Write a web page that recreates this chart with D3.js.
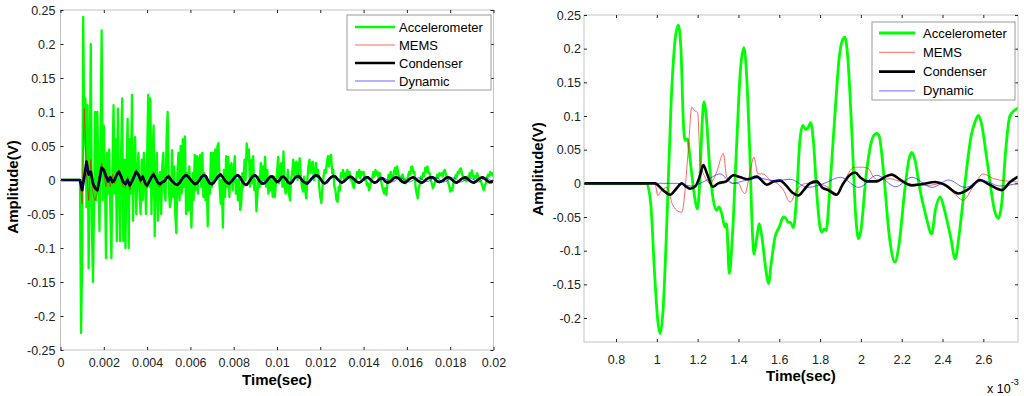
<!DOCTYPE html>
<html>
<head>
<meta charset="utf-8">
<title>Amplitude vs time</title>
<script src="https://d3js.org/d3.v7.min.js"></script>
<style>
body { margin: 0; background: #fff; }
svg { font-family: "Liberation Sans", Arial, sans-serif; }
</style>
</head>
<body>
<script>

// series names and colours (same for both panels)
var names = ["Accelerometer", "MEMS", "Condenser", "Dynamic"];
var colors = ["#00ff00", "#ff0000", "#000000", "#0000ff"];

// ---- left panel: whole record, 0 .. 0.02 s ----
var leftXTicks = [0, 0.002, 0.004, 0.006, 0.008, 0.01, 0.012, 0.014, 0.016, 0.018, 0.02];
var leftYTicks = [-0.25, -0.2, -0.15, -0.1, -0.05, 0, 0.05, 0.1, 0.15, 0.2, 0.25];

// accelerometer sampled every 0.00005 s
var accelStep = 0.00005;
var leftAccel = [
  0, 0, 0, 0, 0, 0, 0, 0, 0, 0, 0, 0, 0, 0, 0, 0, 0, 0, 0,
  -0.225, -0.12, 0.24, 0.05, 0.12, -0.04, 0.11, -0.13, 0.02, 0.2,
  -0.07, -0.15, -0.04, 0.1, -0.03, 0.1, 0.02, -0.075, 0.05, 0.22,
  -0.03, 0.08, 0.01, -0.115, 0.04, -0.02, 0.045, -0.04, -0.115, 0.02,
  0.11, -0.02, 0.06, -0.09, 0.105, -0.01, -0.09, 0.04, 0.12, -0.09,
  0.03, -0.1, 0.02, 0.09, -0.1, 0.06, -0.02, 0.125, -0.06, 0.03,
  0.063, -0.05, 0.01, 0.04, -0.02, -0.05, 0.03, -0.03, 0.04, 0.0,
  -0.05, 0.03, 0.125, -0.01, 0.12, -0.05, 0.03, 0.08, -0.083, 0.01,
  0.04, -0.06, 0.0, 0.012, -0.05, 0.02, 0.04, -0.02, -0.03, 0.06,
  0.1, -0.01, -0.04,
  -0.03, 0.044, -0.025, 0.02, -0.05, -0.078, 0.01, 0.04, -0.03, 0.05,
  -0.02, 0.06, -0.01, 0.064, -0.05, 0.01, -0.045, 0.02, -0.03, -0.07,
  0.01, -0.03, 0.037, -0.015, 0.035, -0.02, 0.03, 0.037, -0.01, 0.04,
  -0.025, 0.01, -0.03, 0.005, -0.068, 0.0, -0.02, 0.04, -0.01, 0.04,
  -0.005, 0.045, 0.0, 0.05, 0.054, -0.01, -0.035, 0.0, -0.07, 0.015,
  -0.025, 0.035, -0.01, 0.034, -0.025, 0.02, 0.025, -0.015, 0.01, 0.035,
  -0.02, 0.0, -0.03, 0.005, -0.044, -0.035, 0.01, -0.01, 0.03, 0.0,
  0.054, 0.03, 0.045, -0.01, 0.03, -0.005, 0.035, -0.015, 0.0, -0.046,
  -0.02, 0.005, -0.01, 0.025, -0.005, 0.02, 0.0, 0.034, -0.01, 0.015,
  -0.02, 0.0, -0.015, 0.005, -0.025, 0.005,
  -0.025, -0.005, 0.01, 0.034, -0.005, 0.02, 0.025, -0.01, 0.042, -0.01,
  -0.02, -0.01, 0.015, -0.02, -0.03, 0.0, 0.01, 0.03, 0.005, 0.025,
  0.027, 0.0, 0.02, 0.032, 0.005, -0.01, -0.017, 0.005, -0.015, -0.027,
  0.0, 0.02, 0.03, 0.01, 0.025, 0.027, 0.0, 0.012, 0.025, 0.005,
  0.015, -0.01, -0.025, -0.034, -0.01, 0.005, 0.015, 0.01, 0.025, 0.035,
  0.02, 0.035, 0.037, 0.01, 0.015, -0.01, -0.015, -0.03, -0.032, -0.01,
  -0.015, 0.01, 0.005, 0.015, 0.0, 0.01, 0.005, 0.015, 0.005, 0.012,
  0.0, 0.005, -0.008, -0.012, 0.0, 0.0, 0.012, 0.005, 0.015, 0.002,
  0.012, 0.008, 0.012, 0.0, 0.005, -0.008, -0.005, -0.015, -0.01, 0.0,
  0.002, 0.012, 0.005, 0.015, 0.008, 0.012, 0.0,
  0.01, 0.0, -0.008, -0.015, -0.02, -0.012, -0.022, -0.005, 0.008, 0.0,
  0.012, 0.004, 0.0, 0.012, 0.018, 0.008, 0.02, 0.01, 0.005, -0.002,
  0.005, 0.008, 0.0, 0.002, -0.005, 0.0, 0.005, 0.012, 0.008, 0.019,
  0.02, 0.01, 0.012, -0.01, -0.02, -0.027, -0.012, -0.005, 0.005, 0.002,
  0.01, 0.006, 0.018, 0.012, 0.02, 0.01, 0.01, 0.0, -0.005, -0.012,
  -0.008, -0.002, 0.002, 0.008, 0.003, 0.01, 0.007, 0.01, 0.005, 0.013,
  0.015, 0.008, 0.005, -0.004, -0.008, -0.017, -0.012, -0.015, -0.004, 0.0,
  0.007, 0.004, 0.012, 0.01, 0.016, 0.017, 0.008, 0.005, 0.0, 0.003,
  -0.002, 0.005, 0.003, 0.01, 0.005, 0.014, 0.006, 0.002, 0.006, 0.003,
  0.01, 0.004, 0.003, -0.002, -0.005, -0.01, -0.015, -0.008, -0.005, 0.004,
  0.008, 0.005, 0.012, 0.008, 0.01, 0.005
];

// microphones sampled every 0.0001 s
var micStep = 0.0001;
var leftMems = [
  0, 0, 0, 0, 0, 0, 0, 0, 0, 0,
  -0.035, 0.105, 0.01, -0.03, 0.03, -0.02, -0.03, -0.02, 0.01, 0.025,
  0.01, -0.01, 0.005, -0.01, 0.008, -0.005, 0.012, 0.015, 0.0, -0.01,
  -0.012, 0.005, -0.015, 0.0, 0.01, 0.016, 0.005, -0.005, 0.008, -0.008,
  -0.012, 0.0, 0.008, 0.012, 0.0, -0.008, -0.01, -0.004, 0.0, 0.006,
  0.008,
  0.002, -0.004, -0.008, -0.009, -0.005, 0.002, 0.007, 0.009, 0.006, 0.0,
  -0.005, -0.008, -0.006, 0.0, 0.006, 0.009, 0.007, -0.001, -0.007, -0.008,
  -0.003, 0.003, 0.008, 0.01, 0.005, -0.002, -0.006, -0.007, -0.002, 0.003,
  0.008, 0.009, 0.004, -0.003, -0.008, -0.009, -0.004, 0.003, 0.008, 0.008,
  0.003, -0.003, -0.007, -0.006, -0.002, 0.003, 0.006, 0.006, 0.001, -0.004,
  -0.002, 0.005, 0.006, 0.002, -0.004, -0.006, -0.003, 0.003, 0.006, 0.007,
  0.002, -0.003, -0.006, -0.006, -0.002, 0.003, 0.006, 0.008, 0.006, 0.002,
  -0.004, -0.006, -0.004, 0.002, 0.005, 0.007, 0.005, 0.0, -0.003, -0.005,
  -0.002, 0.002, 0.005, 0.006, 0.003, -0.001, -0.004, -0.005, -0.002, 0.002,
  0.005, 0.005, 0.001, -0.003, -0.005, -0.004, 0.0, 0.004, 0.003, -0.002,
  -0.005, -0.004, 0.0, 0.004, 0.005, 0.004, 0.0, -0.004, -0.005, -0.003,
  0.001, 0.004, 0.005, 0.003, -0.001, -0.004, -0.005, -0.003, 0.001, 0.004,
  0.005, 0.005, 0.001, -0.003, -0.004, -0.003, 0.0, 0.004, 0.005, 0.004,
  0.0, -0.004, -0.005, -0.003, 0.001, 0.004, 0.005, 0.003, -0.001, -0.004,
  -0.005, -0.003, 0.001, 0.004, 0.005, 0.003, -0.001, -0.004, -0.004, -0.001
];
var leftCond = [
  0, 0, 0, 0, 0, 0, 0, 0, 0, 0,
  -0.015, 0.005, 0.027, 0.008, 0.012, -0.005, -0.012, -0.015, 0.0, 0.018,
  0.015, 0.006, -0.002, 0.004, -0.003, 0.0, 0.008, 0.012, 0.005, -0.003,
  -0.006, 0.0, -0.008, -0.002, 0.005, 0.012, 0.008, 0.0, 0.005, -0.004,
  -0.008, -0.002, 0.004, 0.008, 0.002, -0.004, -0.006, -0.003, -0.002, 0.003,
  0.005,
  0.0, -0.003, -0.006, -0.007, -0.004, 0.001, 0.005, 0.007, 0.005, 0.001,
  -0.003, -0.006, -0.005, -0.001, 0.004, 0.007, 0.006, 0.0, -0.005, -0.006,
  -0.003, 0.002, 0.006, 0.008, 0.004, -0.001, -0.004, -0.005, -0.002, 0.002,
  0.006, 0.007, 0.004, -0.002, -0.006, -0.007, -0.003, 0.002, 0.006, 0.007,
  0.003, -0.002, -0.005, -0.005, -0.002, 0.002, 0.005, 0.005,
  0.001, -0.003, -0.001, 0.004, 0.005, 0.002, -0.003, -0.005, -0.003, 0.002,
  0.005, 0.006, 0.002, -0.002, -0.004, -0.005, -0.002, 0.002, 0.005, 0.007,
  0.006, 0.002, -0.003, -0.005, -0.003, 0.001, 0.004, 0.006, 0.005, 0.001,
  -0.002, -0.004, -0.002, 0.001, 0.004, 0.005, 0.003, 0.0, -0.003, -0.004,
  -0.002, 0.001, 0.004, 0.004, 0.001, -0.002, -0.004, -0.003,
  0.0, 0.003, 0.002, -0.002, -0.004, -0.003, 0.0, 0.003, 0.004, 0.003,
  0.0, -0.003, -0.004, -0.002, 0.001, 0.003, 0.004, 0.002, -0.001, -0.003,
  -0.004, -0.002, 0.001, 0.003, 0.004, 0.004, 0.001, -0.002, -0.003, -0.002,
  0.0, 0.003, 0.004, 0.003, 0.0, -0.003, -0.004, -0.002, 0.001, 0.003,
  0.004, 0.002, -0.001, -0.003, -0.004, -0.002, 0.001, 0.003, 0.004, 0.002,
  -0.001, -0.003, -0.003, -0.001
];
var leftDyn = [
  0, 0, 0, 0, 0, 0, 0, 0, 0, 0,
  -0.01, 0.0, 0.02, 0.01, 0.008, -0.006, -0.01, -0.012, 0.0, 0.014,
  0.012, 0.004, -0.002, 0.003, -0.002, 0.0, 0.006, 0.01, 0.004, -0.002,
  -0.005, 0.0, -0.006, -0.002, 0.004, 0.01, 0.006, 0.0, 0.004, -0.003,
  -0.006, -0.002, 0.003, 0.006, 0.002, -0.003, -0.005, -0.002, -0.001, 0.002,
  0.004,
  0.0, -0.002, -0.005, -0.006, -0.003, 0.001, 0.004, 0.006, 0.004, 0.001,
  -0.003, -0.005, -0.004, -0.001, 0.003, 0.006, 0.005, 0.0, -0.004, -0.005,
  -0.002, 0.002, 0.005, 0.006, 0.003, -0.001, -0.003, -0.004, -0.002, 0.002,
  0.005, 0.006, 0.003, -0.002, -0.005, -0.006, -0.002, 0.002, 0.005, 0.006,
  0.002, -0.002, -0.004, -0.004, -0.002, 0.002, 0.004, 0.004, 0.001, -0.002,
  -0.001, 0.003, 0.004, 0.002, -0.002, -0.004, -0.002, 0.002, 0.004, 0.005,
  0.002, -0.002, -0.004, -0.004, -0.002, 0.001, 0.004, 0.005, 0.004, 0.001,
  -0.002, -0.004, -0.003, 0.001, 0.003, 0.004, 0.003, 0.0, -0.002, -0.003,
  -0.002, 0.001, 0.003, 0.004, 0.002, 0.0, -0.002, -0.003, -0.002, 0.001,
  0.003, 0.003, 0.001, -0.002, -0.003, -0.002, 0.0, 0.002, 0.003, 0.002,
  0.0, -0.002, -0.003, -0.002, 0.0, 0.002, 0.003, 0.002, 0.0, -0.002,
  -0.003, -0.002, 0.0, 0.002, 0.003, 0.003, 0.001, -0.001, -0.002, -0.002,
  0.0, 0.002, 0.003, 0.003, 0.001, -0.002, -0.003, -0.002, 0.0, 0.002,
  0.003, 0.003, 0.001, -0.002, -0.003, -0.002, 0.0, 0.002, 0.003, 0.002,
  0.0, -0.002, -0.003, -0.002, 0.001, 0.002, 0.003, 0.001, -0.001, -0.002
];

// ---- right panel: close-up, time in ms (x 10^-3 s) ----
var rightXTicks = [0.8, 1, 1.2, 1.4, 1.6, 1.8, 2, 2.2, 2.4, 2.6];
var rightYTicks = [-0.2, -0.15, -0.1, -0.05, 0, 0.05, 0.1, 0.15, 0.2, 0.25];

var accelT = [0.643, 0.95, 0.97, 0.99, 1.005, 1.016, 1.03, 1.05, 1.07, 1.09,
  1.105, 1.118, 1.13, 1.138, 1.15, 1.165, 1.185, 1.198, 1.21, 1.222,
  1.231, 1.242, 1.26, 1.28, 1.293, 1.305, 1.318, 1.334, 1.342, 1.355,
  1.37, 1.39, 1.41, 1.427, 1.44, 1.455, 1.468, 1.476, 1.49, 1.502,
  1.515, 1.535, 1.547, 1.56, 1.579, 1.6, 1.62, 1.633, 1.643, 1.655,
  1.669, 1.685, 1.7, 1.715, 1.73, 1.742, 1.754, 1.768, 1.785, 1.8,
  1.808, 1.82, 1.83, 1.845, 1.87, 1.895, 1.912, 1.922, 1.935, 1.955,
  1.975, 1.988, 2.0, 2.025, 2.05, 2.065, 2.078, 2.09, 2.11, 2.14,
  2.167, 2.185, 2.215, 2.235, 2.249, 2.265, 2.29, 2.32, 2.347, 2.365,
  2.388, 2.41, 2.44, 2.462, 2.48, 2.51, 2.54, 2.56, 2.576, 2.59,
  2.62, 2.655, 2.674, 2.69, 2.71, 2.73, 2.77];
var accelV = [0, 0, -0.03, -0.14, -0.205, -0.223, -0.19, -0.05, 0.12, 0.215,
  0.235, 0.2, 0.09, 0.064, 0.066, 0.03, -0.02, -0.038, 0.0, 0.09,
  0.121, 0.1, 0.02, -0.03, -0.04, -0.035, -0.045, -0.065, -0.06, -0.134,
  -0.08, 0.05, 0.17, 0.2015, 0.16, 0.05, -0.07, -0.105, -0.08, -0.06,
  -0.08, -0.13, -0.149, -0.12, -0.08, -0.065, -0.05, -0.052, -0.058, -0.058,
  -0.066, -0.02, 0.06, 0.086, 0.08, 0.083, 0.09, 0.06, -0.02, -0.065,
  -0.072, -0.068, -0.07, -0.02, 0.09, 0.19, 0.214, 0.217, 0.19, 0.08,
  -0.05, -0.082, -0.07, 0.01, 0.06, 0.072, 0.074, 0.07, 0.02, -0.08,
  -0.117, -0.095, -0.01, 0.035, 0.046, 0.035, -0.01, -0.05, -0.075, -0.04,
  -0.02, -0.04, -0.08, -0.112, -0.08, 0.0, 0.07, 0.092, 0.101, 0.09,
  0.03, -0.04, -0.052, -0.03, 0.05, 0.1, 0.112];

var memsT = [0.643, 0.99, 1.005, 1.02, 1.05, 1.075, 1.097, 1.122, 1.154, 1.171,
  1.185, 1.2, 1.213, 1.235, 1.26, 1.29, 1.326, 1.342, 1.375, 1.4,
  1.42, 1.432, 1.455, 1.476, 1.495, 1.52, 1.555, 1.59, 1.62, 1.653,
  1.685, 1.735, 1.784, 1.833, 1.882, 1.915, 1.947, 1.971, 2.01, 2.037,
  2.06, 2.09, 2.14, 2.17, 2.2, 2.23, 2.28, 2.33, 2.4, 2.45,
  2.502, 2.55, 2.6, 2.65, 2.7, 2.77];
var memsV = [0, 0, -0.018, -0.012, -0.006, -0.03, -0.04, -0.043, 0.049, 0.113,
  0.108, 0.105, 0.03, 0.01, 0.0, 0.014, 0.044, 0.01, 0.0, 0.0,
  -0.012, -0.015, 0.014, 0.039, 0.014, 0.014, 0.005, 0.0, -0.01, -0.028,
  -0.01, 0.0, 0.0, -0.005, -0.015, 0.0, 0.019, 0.024, 0.024, 0.022,
  0.01, 0.005, 0.007, 0.005, 0.002, 0.0, -0.003, -0.003, 0.0, -0.013,
  -0.025, -0.005, 0.014, 0.007, 0.004, 0.002];

var condT = [0.643, 0.99, 1.03, 1.065, 1.095, 1.122, 1.14, 1.163, 1.19, 1.21,
  1.228, 1.245, 1.274, 1.3, 1.34, 1.375, 1.41, 1.445, 1.49, 1.539,
  1.575, 1.604, 1.63, 1.665, 1.693, 1.72, 1.75, 1.784, 1.81, 1.84,
  1.882, 1.91, 1.945, 1.971, 2.0, 2.029, 2.078, 2.12, 2.151, 2.19,
  2.249, 2.3, 2.364, 2.41, 2.478, 2.53, 2.584, 2.63, 2.69, 2.731, 2.77];
var condV = [0, 0, -0.01, -0.017, -0.008, 0.0, -0.004, -0.008, -0.004, 0.01,
  0.027, 0.015, -0.005, 0.0, 0.003, 0.012, 0.009, 0.006, 0.01, -0.002,
  0.003, 0.004, -0.002, -0.014, -0.018, -0.01, 0.0, 0.003, -0.006, -0.01,
  -0.017, -0.002, 0.012, 0.016, 0.008, 0.003, 0.003, 0.01, 0.013, 0.006,
  -0.003, -0.001, 0.002, -0.002, -0.015, -0.008, 0.005, -0.002, -0.01, 0.002, 0.01];

var dynT = [0.643, 1.1, 1.17, 1.24, 1.31, 1.37, 1.43, 1.5, 1.57, 1.653,
  1.74, 1.82, 1.9, 1.99, 2.078, 2.17, 2.25, 2.35, 2.43, 2.51,
  2.6, 2.68, 2.77];
var dynV = [0, 0, -0.004, 0.004, 0.014, 0.0, 0.004, 0.008, 0.004, 0.006,
  -0.006, 0.0, 0.009, -0.006, 0.012, -0.005, 0.009, -0.006, 0.005, -0.006,
  0.004, -0.004, 0.0];

// ---------------------------------------------------------------

var svg = d3.select("body").append("svg")
    .attr("width", 1024)
    .attr("height", 396);

function stepped(vals, step) {
  return vals.map(function(v, i) { return [i * step, v]; });
}
function paired(ts, vs) {
  return ts.map(function(t, i) { return [t, vs[i]]; });
}
function fmt(d) { return String(+d.toFixed(4)); }

function drawPanel(p) {
  var g = svg.append("g")
      .attr("transform", "translate(" + p.x + "," + p.y + ")");

  var x = d3.scaleLinear().domain(p.xDomain).range([0, p.w]);
  var y = d3.scaleLinear().domain(p.yDomain).range([p.h, 0]);

  g.append("clipPath").attr("id", "clip" + p.id)
    .append("rect").attr("width", p.w).attr("height", p.h);

  // traces
  var plot = g.append("g").attr("clip-path", "url(#clip" + p.id + ")");
  p.series.forEach(function(s) {
    var line = d3.line()
        .x(function(d) { return x(d[0]); })
        .y(function(d) { return y(d[1]); })
        .curve(p.curve);
    plot.append("path")
        .datum(s.pts)
        .attr("d", line)
        .attr("fill", "none")
        .attr("stroke", s.color)
        .attr("stroke-width", s.width)
        .attr("stroke-linejoin", "round");
  });

  // box
  g.append("rect")
      .attr("width", p.w).attr("height", p.h)
      .attr("fill", "none").attr("stroke", "#c4c4c4").attr("stroke-width", 1);

  // axes, ticks pointing inwards like matlab
  var bottom = g.append("g").attr("transform", "translate(0," + p.h + ")")
      .call(d3.axisBottom(x).tickValues(p.xTicks).tickFormat(fmt)
            .tickSize(-3).tickSizeOuter(0).tickPadding(p.xPad));
  var top = g.append("g")
      .call(d3.axisTop(x).tickValues(p.xTicks).tickFormat(function() { return ""; })
            .tickSize(-3).tickSizeOuter(0));
  var left = g.append("g")
      .call(d3.axisLeft(y).tickValues(p.yTicks).tickFormat(fmt)
            .tickSize(-3).tickSizeOuter(0).tickPadding(p.yPad));
  var right = g.append("g").attr("transform", "translate(" + p.w + ",0)")
      .call(d3.axisRight(y).tickValues(p.yTicks).tickFormat(function() { return ""; })
            .tickSize(-3).tickSizeOuter(0));
  [bottom, top, left, right].forEach(function(a) {
    a.attr("font-family", null).attr("font-size", 12.5).attr("color", "#222");
    a.select(".domain").remove();
  });

  // axis titles
  g.append("text")
      .attr("x", p.w / 2).attr("y", p.xTitleY)
      .attr("text-anchor", "middle")
      .style("font-weight", "bold").style("font-size", "15px")
      .text("Time(sec)");
  g.append("text")
      .attr("transform", "translate(" + p.yTitleX + "," + p.yTitleY + ") rotate(-90)")
      .attr("text-anchor", "middle")
      .style("font-weight", "bold").style("font-size", "15px")
      .text("Amplitude(V)");

  // legend
  var L = p.legend;
  var lg = g.append("g").attr("transform", "translate(" + L.x + "," + L.y + ")");
  lg.append("rect")
      .attr("width", L.w).attr("height", L.h)
      .attr("fill", "#fff").attr("stroke", "#9a9a9a");
  names.forEach(function(n, i) {
    var yy = L.first + i * L.gap;
    lg.append("line")
        .attr("x1", L.lineX0).attr("x2", L.lineX1)
        .attr("y1", yy).attr("y2", yy)
        .attr("stroke", colors[i])
        .attr("stroke-width", p.series[i].width);
    lg.append("text")
        .attr("x", L.textX).attr("y", yy)
        .attr("dy", "0.35em")
        .style("font-size", "13px")
        .text(n);
  });
  return g;
}

drawPanel({
  id: "L", x: 60.5, y: 10, w: 433, h: 340,
  xDomain: [0, 0.02], yDomain: [-0.25, 0.25],
  xTicks: leftXTicks, yTicks: leftYTicks,
  xPad: 8, yPad: 5,
  curve: d3.curveLinear,
  series: [
    {pts: stepped(leftAccel, accelStep), color: colors[0], width: 2.3},
    {pts: stepped(leftMems, micStep), color: colors[1], width: 0.6},
    {pts: stepped(leftCond, micStep), color: colors[2], width: 2.7},
    {pts: stepped(leftDyn, micStep), color: colors[3], width: 0.6}
  ],
  xTitleY: 375, yTitleX: -43, yTitleY: 177,
  legend: {x: 286.5, y: 5, w: 144, h: 75, first: 12, gap: 18,
           lineX0: 8, lineX1: 48, textX: 52}
});

var rg = drawPanel({
  id: "R", x: 584, y: 15, w: 434, h: 327,
  xDomain: [0.643, 2.77], yDomain: [-0.2356, 0.25],
  xTicks: rightXTicks, yTicks: rightYTicks,
  xPad: 13, yPad: 3,
  curve: d3.curveMonotoneX,
  series: [
    {pts: paired(accelT, accelV), color: colors[0], width: 2.8},
    {pts: paired(memsT, memsV), color: colors[1], width: 0.6},
    {pts: paired(condT, condV), color: colors[2], width: 2.6},
    {pts: paired(dynT, dynV), color: colors[3], width: 0.6}
  ],
  xTitleY: 366, yTitleX: -41, yTitleY: 154,
  legend: {x: 288, y: 7, w: 143, h: 78, first: 11, gap: 19.3,
           lineX0: 7, lineX1: 43, textX: 51}
});

// exponent note under the right x axis
var ex = rg.append("text").attr("x", 403).attr("y", 378).style("font-size", "12.5px");
ex.append("tspan").text("x 10");
ex.append("tspan").attr("dy", -8).style("font-size", "9px").text("-3");

</script>
</body>
</html>
